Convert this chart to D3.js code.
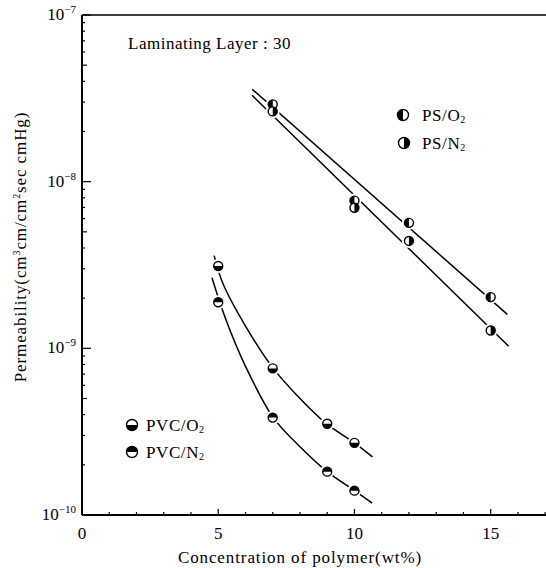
<!DOCTYPE html>
<html>
<head>
<meta charset="utf-8">
<script src="https://cdn.jsdelivr.net/npm/d3@7.9.0/dist/d3.min.js"></script>
<style>
  body { margin: 0; background: #fff; }
  svg { display: block; font-family: 'Liberation Serif', 'DejaVu Serif', serif; }
</style>
</head>
<body>
<svg id="chart" width="546" height="568"></svg>
<script>
// measured points (concentration wt%, permeability)
const psX = [7, 10, 12, 15];
const psO2 = [2.91e-8, 7.7e-9, 5.66e-9, 2.03e-9];
const psN2 = [2.64e-8, 6.97e-9, 4.41e-9, 1.28e-9];
const pvcX = [5, 7, 9, 10];
const pvcO2 = [3.12e-9, 7.58e-10, 3.53e-10, 2.71e-10];
const pvcN2 = [1.89e-9, 3.84e-10, 1.82e-10, 1.40e-10];

// hand-drawn fit curves
const psO2Fit = [[6.25, 3.58e-8], [15.61, 1.60e-9]];
const psN2Fit = [[6.24, 3.30e-8], [15.66, 1.03e-9]];
const pvcO2Fit = [[4.85, 3.6e-9], [5.18, 2.43e-9], [6, 1.36e-9], [7.02, 7.58e-10], [8, 5.0e-10], [8.97, 3.53e-10], [10, 2.71e-10], [10.66, 2.23e-10]];
const pvcN2Fit = [[4.77, 2.65e-9], [5.26, 1.52e-9], [6, 7.8e-10], [7.02, 3.84e-10], [8, 2.57e-10], [9, 1.82e-10], [10, 1.40e-10], [10.65, 1.18e-10]];

const xTicks = [0, 5, 10, 15];
const yTickExp = [-7, -8, -9, -10];

const svg = d3.select('#chart');

const x = d3.scaleLinear().domain([0, 17.03]).range([82, 546]);
const y = d3.scaleLog().domain([1e-10, 1e-7]).range([515, 15]);

// axes frame
svg.append('line').attr('x1', 82).attr('x2', 546).attr('y1', y(1e-7)).attr('y2', y(1e-7))
  .attr('stroke', '#000').attr('stroke-width', 1.6);
svg.append('line').attr('x1', 82).attr('x2', 546).attr('y1', y(1e-10)).attr('y2', y(1e-10))
  .attr('stroke', '#000').attr('stroke-width', 2);
svg.append('line').attr('x1', 82).attr('x2', 82).attr('y1', y(1e-7)).attr('y2', y(1e-10))
  .attr('stroke', '#000').attr('stroke-width', 2);

// x ticks (inside)
d3.range(1, 18).forEach(v => {
  const major = v % 5 === 0;
  svg.append('line').attr('x1', x(v)).attr('x2', x(v))
    .attr('y1', y(1e-10)).attr('y2', y(1e-10) - (major ? 6 : 3))
    .attr('stroke', '#000').attr('stroke-width', 1.2);
});
xTicks.forEach(v => {
  svg.append('text').attr('x', x(v)).attr('y', 539)
    .attr('text-anchor', 'middle').style('font-size', '17px').text(v);
});

// y ticks (inside)
y.ticks().forEach(v => {
  const m = Math.round(v / Math.pow(10, Math.floor(Math.log10(v) + 1e-9)));
  const len = m === 1 ? 9 : (m === 5 ? 5 : 3);
  svg.append('line').attr('x1', 82).attr('x2', 82 + len)
    .attr('y1', y(v)).attr('y2', y(v))
    .attr('stroke', '#000').attr('stroke-width', 1.2);
});
yTickExp.forEach(e => {
  const t = svg.append('text').attr('x', 76).attr('y', y(Math.pow(10, e)) + 5)
    .attr('text-anchor', 'end').style('font-size', '17px');
  t.append('tspan').text('10');
  t.append('tspan').attr('dy', -7).style('font-size', '11px').text('\u2212' + (-e));
});

// axis titles
svg.append('text').attr('x', 300).attr('y', 563).attr('text-anchor', 'middle')
  .style('font-size', '17px').style('letter-spacing', '0.9px').text('Concentration of polymer(wt%)');
const yt = svg.append('text').attr('transform', 'translate(26,247) rotate(-90)')
  .attr('text-anchor', 'middle').style('font-size', '17px').style('letter-spacing', '0.9px');
yt.append('tspan').text('Permeability(cm');
yt.append('tspan').attr('dy', -6).style('font-size', '10px').text('3');
yt.append('tspan').attr('dy', 6).text('cm/cm');
yt.append('tspan').attr('dy', -6).style('font-size', '10px').text('2');
yt.append('tspan').attr('dy', 6).text('sec cmHg)');

svg.append('text').attr('x', 128).attr('y', 49).style('font-size', '17px')
  .style('letter-spacing', '0.5px').text('Laminating Layer : 30');

// fit lines
const line = d3.line().x(d => x(d[0])).y(d => y(d[1])).curve(d3.curveCatmullRom.alpha(0.5));
[psO2Fit, psN2Fit, pvcO2Fit, pvcN2Fit].forEach(f => {
  svg.append('path').datum(f).attr('d', line)
    .attr('fill', 'none').attr('stroke', '#000').attr('stroke-width', 1.5);
});

// half-filled markers
const half = {
  left: [Math.PI, 2 * Math.PI],
  right: [0, Math.PI],
  bottom: [Math.PI / 2, 3 * Math.PI / 2],
  top: [-Math.PI / 2, Math.PI / 2]
};
const r = 4.5;
function marker(g, cx, cy, side, rad) {
  const arc = d3.arc().innerRadius(0).outerRadius(rad)
    .startAngle(half[side][0]).endAngle(half[side][1]);
  g.append('circle').attr('cx', cx).attr('cy', cy).attr('r', rad)
    .attr('fill', '#fff').attr('stroke', '#000').attr('stroke-width', 1.4);
  g.append('path').attr('d', arc()).attr('transform', `translate(${cx},${cy})`).attr('fill', '#000');
}

const series = [
  { xs: psX, ys: psO2, side: 'left' },
  { xs: psX, ys: psN2, side: 'right' },
  { xs: pvcX, ys: pvcO2, side: 'bottom' },
  { xs: pvcX, ys: pvcN2, side: 'top' }
];
// white halos cut the lines near points
series.forEach(s => s.xs.forEach((v, i) => {
  svg.append('circle').attr('cx', x(v)).attr('cy', y(s.ys[i])).attr('r', r + 2.5).attr('fill', '#fff');
}));
series.forEach(s => s.xs.forEach((v, i) => marker(svg, x(v), y(s.ys[i]), s.side, r)));

// legends
const legend = [
  { side: 'left', label: 'PS/O', sub: '2', lx: 403, ly: 115, gap: 19 },
  { side: 'right', label: 'PS/N', sub: '2', lx: 404, ly: 143, gap: 18 },
  { side: 'bottom', label: 'PVC/O', sub: '2', lx: 132, ly: 425, gap: 14 },
  { side: 'top', label: 'PVC/N', sub: '2', lx: 132, ly: 452, gap: 14 }
];
legend.forEach(l => {
  marker(svg, l.lx, l.ly, l.side, 5.5);
  const t = svg.append('text').attr('x', l.lx + l.gap).attr('y', l.ly + 6)
    .style('font-size', '17px').style('letter-spacing', '0.6px');
  t.append('tspan').text(l.label);
  t.append('tspan').attr('dy', 2).style('font-size', '10px').text(l.sub);
});
</script>
</body>
</html>
